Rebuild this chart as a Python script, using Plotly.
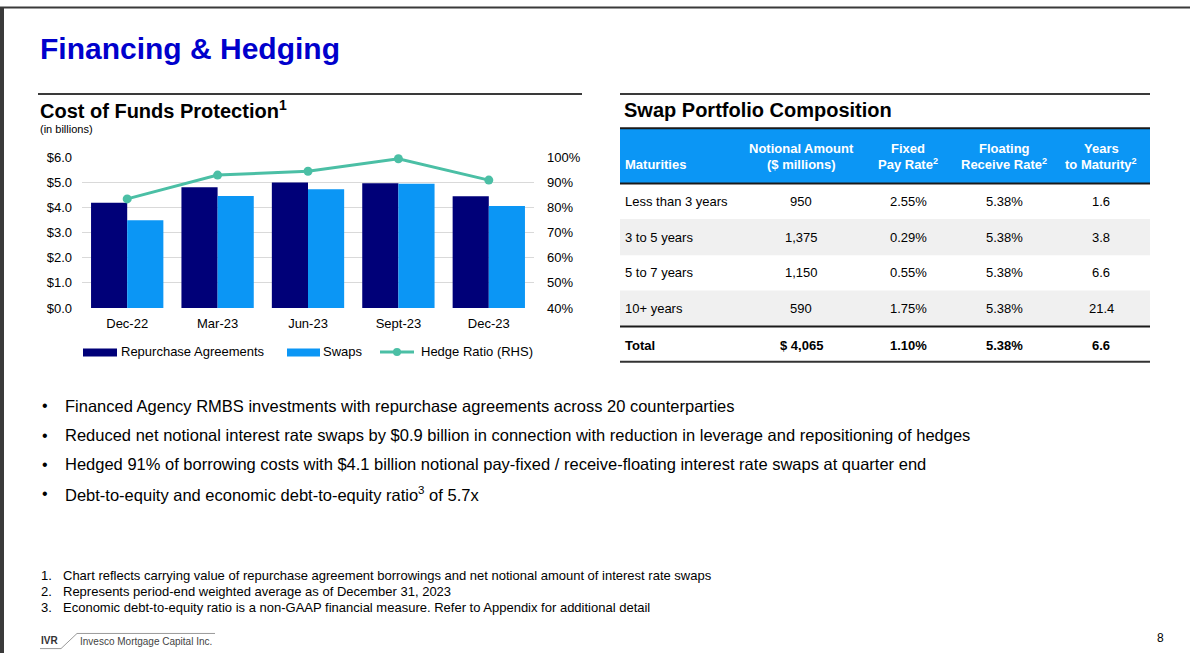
import plotly.graph_objects as go

# ---------------- data ----------------
periods = ["Dec-22", "Mar-23", "Jun-23", "Sept-23", "Dec-23"]
repo_bn = [4.20, 4.81, 5.00, 4.97, 4.46]
swaps_bn = [3.50, 4.47, 4.73, 4.95, 4.065]
hedge_ratio_pct = [83.5, 93.0, 94.5, 99.5, 91.0]

left_ticks = [0, 1, 2, 3, 4, 5, 6]
right_ticks = [40, 50, 60, 70, 80, 90, 100]

table_maturities = ["Less than 3 years", "3 to 5 years", "5 to 7 years", "10+ years", "Total"]
table_notional = ["950", "1,375", "1,150", "590", "$ 4,065"]
table_fixed = ["2.55%", "0.29%", "0.55%", "1.75%", "1.10%"]
table_floating = ["5.38%", "5.38%", "5.38%", "5.38%", "5.38%"]
table_years = ["1.6", "3.8", "6.6", "21.4", "6.6"]

bullets = [
    "Financed Agency RMBS investments with repurchase agreements across 20 counterparties",
    "Reduced net notional interest rate swaps by $0.9 billion in connection with reduction in leverage and repositioning of hedges",
    "Hedged 91% of borrowing costs with $4.1 billion notional pay-fixed / receive-floating interest rate swaps at quarter end",
    "Debt-to-equity and economic debt-to-equity ratio<sup>3</sup> of 5.7x",
]
footnotes = [
    "Chart reflects carrying value of repurchase agreement borrowings and net notional amount of interest rate swaps",
    "Represents period-end weighted average as of December 31, 2023",
    "Economic debt-to-equity ratio is a non-GAAP financial measure. Refer to Appendix for additional detail",
]

# ---------------- styling ----------------
W, H = 1190, 661
FONT = "Liberation Sans, Arial, sans-serif"
NAVY = "#000078"
SKY = "#0B96F5"
TEAL = "#4BBFA5"
TITLE_BLUE = "#0000CC"
DARK = "#3A3A3A"


def px(x):
    return x / W


def py(y):
    return 1 - y / H


fig = go.Figure()
fig.add_trace(go.Bar(x=periods, y=repo_bn, name="Repurchase Agreements",
                     marker=dict(color=NAVY, line=dict(width=0)), yaxis="y"))
fig.add_trace(go.Bar(x=periods, y=swaps_bn, name="Swaps",
                     marker=dict(color=SKY, line=dict(width=0)), yaxis="y"))
fig.add_trace(go.Scatter(x=periods, y=hedge_ratio_pct, name="Hedge Ratio (RHS)",
                         mode="lines+markers", yaxis="y2", cliponaxis=False,
                         line=dict(color=TEAL, width=3),
                         marker=dict(color=TEAL, size=9)))

ydom = [py(308), py(154)]
fig.update_layout(
    width=W, height=H,
    margin=dict(l=0, r=0, t=0, b=0),
    paper_bgcolor="white", plot_bgcolor="white",
    showlegend=False,
    barmode="group", bargap=0.2, bargroupgap=0,
    font=dict(family=FONT, size=13, color="#000000"),
    xaxis=dict(domain=[px(82), px(534)], showgrid=False, showline=False,
               ticks="", tickfont=dict(size=13), ticklabelstandoff=6),
    yaxis=dict(domain=ydom, range=[0, 6], tickvals=left_ticks,
               ticktext=[f"${v:.1f}" for v in left_ticks],
               showgrid=True, gridcolor="#D9D9D9", gridwidth=1,
               zeroline=False, showline=False, ticks="",
               tickfont=dict(size=13), ticklabelstandoff=9, fixedrange=True),
    yaxis2=dict(domain=ydom, range=[40, 100], tickvals=right_ticks,
                ticktext=[f"{v}%" for v in right_ticks],
                overlaying="y", side="right", showgrid=False, zeroline=False,
                showline=False, ticks="", tickfont=dict(size=13),
                ticklabelstandoff=12),
)

shapes = []
ann = []


def text(x, y, s, size=13, color="#000000", anchor="left", bold=False):
    if bold:
        s = f"<b>{s}</b>"
    ann.append(dict(x=px(x), y=py(y), xref="paper", yref="paper", text=s,
                    showarrow=False, xanchor=anchor, yanchor="middle",
                    font=dict(family=FONT, size=size, color=color), borderpad=0))


def hline(x0, x1, y, color, width):
    shapes.append(dict(type="line", xref="paper", yref="paper",
                       x0=px(x0), x1=px(x1), y0=py(y), y1=py(y),
                       line=dict(color=color, width=width)))


def rect(x0, x1, y0, y1, color):
    shapes.append(dict(type="rect", xref="paper", yref="paper",
                       x0=px(x0), x1=px(x1), y0=py(y0), y1=py(y1),
                       fillcolor=color, line=dict(width=0), layer="below"))


# page border
rect(0, 4, 0, 661, "#3A3A3A")
hline(0, 1190, 0.5, "#3A3A3A", 2)

# main title
text(39, 42, "Financing & Hedging", size=30, color=TITLE_BLUE, bold=True)

# left chart headers
hline(38, 582, 89, DARK, 2)
text(39, 105, "Cost of Funds Protection<sup>1</sup>", size=20, bold=True)
text(39, 125, "(in billions)", size=11)

# custom legend
rect(83, 117, 349.5, 357.5, NAVY)
text(120, 353, "Repurchase Agreements", size=13)
rect(287, 320, 349.5, 357.5, SKY)
text(322, 353, "Swaps", size=13)
hline(380, 414, 353, TEAL, 3)
shapes.append(dict(type="circle", xref="paper", yref="paper",
                   x0=px(393), x1=px(401), y0=py(349), y1=py(357),
                   fillcolor=TEAL, line=dict(width=0)))
text(420, 353, "Hedge Ratio (RHS)", size=13)

# table
TX0, TX1 = 620, 1150
hline(TX0, TX1, 89, DARK, 2)
text(623, 105, "Swap Portfolio Composition", size=20, bold=True)
rect(TX0, TX1, 124, 180, SKY)
hline(TX0, TX1, 124, "#1A1A1A", 2)
hline(TX0, TX1, 180.5, "#1A1A1A", 2)

row_y = [199, 236, 272, 309, 346]
bands = [(181, 217), (217, 254), (254, 290), (290, 327)]
for i, (a, b) in enumerate(bands):
    if i % 2 == 1:
        rect(TX0, TX1, a, b, "#F0F0F0")
hline(TX0, TX1, 327, "#1A1A1A", 2)
hline(TX0, TX1, 363, "#333333", 2)

col_x = [624, 801, 908, 1004, 1101]
headers = [
    ("", "Maturities"),
    ("Notional Amount", "($ millions)"),
    ("Fixed", "Pay Rate<sup>2</sup>"),
    ("Floating", "Receive Rate<sup>2</sup>"),
    ("Years", "to Maturity<sup>2</sup>"),
]
for j, (l1, l2) in enumerate(headers):
    anchor = "left" if j == 0 else "center"
    if l1:
        text(col_x[j], 145, l1, size=13, color="white", anchor=anchor, bold=True)
    text(col_x[j], 161, l2, size=13, color="white", anchor=anchor, bold=True)

columns = [table_maturities, table_notional, table_fixed, table_floating, table_years]
for j, col in enumerate(columns):
    anchor = "left" if j == 0 else "center"
    for i, v in enumerate(col):
        text(col_x[j], row_y[i], v, size=13, anchor=anchor, bold=(i == len(col) - 1))

# bullets
for i, b in enumerate(bullets):
    y = 408 + 30 * i
    text(41, y, "•", size=16)
    text(64, y, b, size=16.5)

# footnotes
for i, f in enumerate(footnotes):
    y = 582 + 16 * i
    text(40, y, f"{i + 1}.", size=13)
    text(62, y, f, size=13)

# footer
text(40, 648, "IVR", size=10, bold=True, color="#333333")
shapes.append(dict(type="line", xref="paper", yref="paper",
                   x0=px(40), x1=px(61), y0=py(656.5), y1=py(656.5),
                   line=dict(color="#9A9A9A", width=1)))
shapes.append(dict(type="line", xref="paper", yref="paper",
                   x0=px(61), x1=px(77), y0=py(656.5), y1=py(641),
                   line=dict(color="#9A9A9A", width=1)))
shapes.append(dict(type="line", xref="paper", yref="paper",
                   x0=px(77), x1=px(215), y0=py(641), y1=py(641),
                   line=dict(color="#9A9A9A", width=1)))
text(79, 649, "Invesco Mortgage Capital Inc.", size=10, color="#444444")
text(1160, 646, "8", size=12, anchor="center")

fig.update_layout(shapes=shapes, annotations=ann)
fig.write_html("out.html")
